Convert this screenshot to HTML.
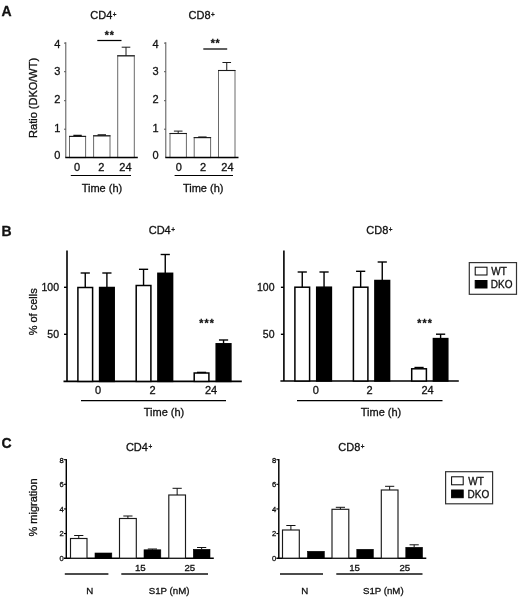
<!DOCTYPE html>
<html lang="en">
<head>
<meta charset="utf-8">
<title>Figure</title>
<style>
html,body{margin:0;padding:0;background:#fff;}
svg{display:block;}
svg text{font-family:"Liberation Sans", Arial, Helvetica, sans-serif;fill:#111;stroke:#111;stroke-width:0.3px;}
</style>
</head>
<body>
<svg width="520" height="598" viewBox="0 0 520 598">
<rect x="0" y="0" width="520" height="598" fill="#ffffff"/>
<text x="1.5" y="16.2" font-size="14" text-anchor="start" font-weight="bold" >A</text>
<text x="1.5" y="236.2" font-size="14" text-anchor="start" font-weight="bold" >B</text>
<text x="1.5" y="448" font-size="14" text-anchor="start" font-weight="bold" >C</text>
<line x1="65.8" y1="42.2" x2="65.8" y2="157.6" stroke="#555" stroke-width="1"/>
<line x1="64.0" y1="43.1" x2="65.8" y2="43.1" stroke="#555" stroke-width="1"/>
<text x="60.4" y="47.9" font-size="11" text-anchor="end" font-weight="normal" >4</text>
<line x1="64.0" y1="71.7" x2="65.8" y2="71.7" stroke="#555" stroke-width="1"/>
<text x="60.4" y="75.2" font-size="11" text-anchor="end" font-weight="normal" >3</text>
<line x1="64.0" y1="100.7" x2="65.8" y2="100.7" stroke="#555" stroke-width="1"/>
<text x="60.4" y="102.9" font-size="11" text-anchor="end" font-weight="normal" >2</text>
<line x1="64.0" y1="129.2" x2="65.8" y2="129.2" stroke="#555" stroke-width="1"/>
<text x="60.4" y="132.0" font-size="11" text-anchor="end" font-weight="normal" >1</text>
<text x="60.4" y="159.1" font-size="11" text-anchor="end" font-weight="normal" >0</text>
<rect x="69.5" y="136.4" width="16.1" height="21.2" fill="#fff" stroke="#6a6a6a" stroke-width="1"/>
<line x1="69.0" y1="136.4" x2="86.1" y2="136.4" stroke="#1c1c1c" stroke-width="1.1"/>
<line x1="73.35" y1="135.4" x2="81.75" y2="135.4" stroke="#111" stroke-width="1.3"/>
<rect x="93.6" y="135.8" width="16.4" height="21.8" fill="#fff" stroke="#6a6a6a" stroke-width="1"/>
<line x1="93.1" y1="135.8" x2="110.5" y2="135.8" stroke="#1c1c1c" stroke-width="1.1"/>
<line x1="97.6" y1="134.9" x2="106.0" y2="134.9" stroke="#111" stroke-width="1.3"/>
<rect x="117.7" y="55.8" width="16.6" height="101.8" fill="#fff" stroke="#6a6a6a" stroke-width="1"/>
<line x1="117.2" y1="55.8" x2="134.8" y2="55.8" stroke="#1c1c1c" stroke-width="1.1"/>
<line x1="126.0" y1="47.2" x2="126.0" y2="55.8" stroke="#1a1a1a" stroke-width="1"/>
<line x1="121.7" y1="47.2" x2="130.3" y2="47.2" stroke="#1a1a1a" stroke-width="1"/>
<line x1="65.3" y1="157.6" x2="137.8" y2="157.6" stroke="#000" stroke-width="1.5"/>
<text x="76.95" y="171.1" font-size="11" text-anchor="middle" font-weight="normal" >0</text>
<text x="101.2" y="171.1" font-size="11" text-anchor="middle" font-weight="normal" >2</text>
<text x="125.4" y="171.1" font-size="11" text-anchor="middle" font-weight="normal" >24</text>
<line x1="70.8" y1="175.5" x2="131" y2="175.5" stroke="#000" stroke-width="1.2"/>
<text x="101.9" y="191.8" font-size="11" text-anchor="middle" font-weight="normal" >Time (h)</text>
<line x1="97.3" y1="40.5" x2="121.5" y2="40.5" stroke="#000" stroke-width="1.25"/>
<text x="109.7" y="38.6" font-size="10.5" text-anchor="middle" font-weight="bold" letter-spacing="0.8">**</text>
<text x="90.3" y="19.2" font-size="11" text-anchor="start">CD4<tspan font-size="6.4" dy="-2.4" dx="0.5">+</tspan></text>
<line x1="165.8" y1="42.2" x2="165.8" y2="157.6" stroke="#555" stroke-width="1"/>
<line x1="164.0" y1="43.1" x2="165.8" y2="43.1" stroke="#555" stroke-width="1"/>
<text x="158.60000000000002" y="47.9" font-size="11" text-anchor="end" font-weight="normal" >4</text>
<line x1="164.0" y1="71.7" x2="165.8" y2="71.7" stroke="#555" stroke-width="1"/>
<text x="158.60000000000002" y="75.2" font-size="11" text-anchor="end" font-weight="normal" >3</text>
<line x1="164.0" y1="100.7" x2="165.8" y2="100.7" stroke="#555" stroke-width="1"/>
<text x="158.60000000000002" y="102.9" font-size="11" text-anchor="end" font-weight="normal" >2</text>
<line x1="164.0" y1="129.2" x2="165.8" y2="129.2" stroke="#555" stroke-width="1"/>
<text x="158.60000000000002" y="132.0" font-size="11" text-anchor="end" font-weight="normal" >1</text>
<text x="158.60000000000002" y="159.1" font-size="11" text-anchor="end" font-weight="normal" >0</text>
<rect x="170" y="133.5" width="16.4" height="24.1" fill="#fff" stroke="#6a6a6a" stroke-width="1"/>
<line x1="169.5" y1="133.5" x2="186.9" y2="133.5" stroke="#1c1c1c" stroke-width="1.1"/>
<line x1="178.2" y1="131.1" x2="178.2" y2="133.5" stroke="#1a1a1a" stroke-width="1"/>
<line x1="173.89999999999998" y1="131.1" x2="182.5" y2="131.1" stroke="#1a1a1a" stroke-width="1"/>
<rect x="194.2" y="137.6" width="16.4" height="20.0" fill="#fff" stroke="#6a6a6a" stroke-width="1"/>
<line x1="193.7" y1="137.6" x2="211.1" y2="137.6" stroke="#1c1c1c" stroke-width="1.1"/>
<line x1="198.2" y1="137.1" x2="206.59999999999997" y2="137.1" stroke="#111" stroke-width="1.3"/>
<rect x="218.5" y="70.5" width="16.5" height="87.1" fill="#fff" stroke="#6a6a6a" stroke-width="1"/>
<line x1="218.0" y1="70.5" x2="235.5" y2="70.5" stroke="#1c1c1c" stroke-width="1.1"/>
<line x1="226.75" y1="62.5" x2="226.75" y2="70.5" stroke="#1a1a1a" stroke-width="1"/>
<line x1="222.45" y1="62.5" x2="231.05" y2="62.5" stroke="#1a1a1a" stroke-width="1"/>
<line x1="165.3" y1="157.6" x2="238.5" y2="157.6" stroke="#000" stroke-width="1.5"/>
<text x="178.89999999999998" y="171.1" font-size="11" text-anchor="middle" font-weight="normal" >0</text>
<text x="203.09999999999997" y="171.1" font-size="11" text-anchor="middle" font-weight="normal" >2</text>
<text x="227.45" y="171.1" font-size="11" text-anchor="middle" font-weight="normal" >24</text>
<line x1="174.6" y1="175.5" x2="233" y2="175.5" stroke="#000" stroke-width="1.2"/>
<text x="203.2" y="191.8" font-size="11" text-anchor="middle" font-weight="normal" >Time (h)</text>
<line x1="203.3" y1="49" x2="227.2" y2="49" stroke="#000" stroke-width="1.25"/>
<text x="215.55" y="47.1" font-size="10.5" text-anchor="middle" font-weight="bold" letter-spacing="0.8">**</text>
<text x="188.6" y="19.2" font-size="11" text-anchor="start">CD8<tspan font-size="6.4" dy="-2.4" dx="0.5">+</tspan></text>
<text transform="translate(37.4,97.9) rotate(-90)" font-size="11" text-anchor="middle">Ratio (DKO/WT)</text>
<line x1="67" y1="250.5" x2="67" y2="381.4" stroke="#000" stroke-width="1.6"/>
<line x1="63.5" y1="381.4" x2="241.8" y2="381.4" stroke="#000" stroke-width="1.6"/>
<line x1="64" y1="287.3" x2="67" y2="287.3" stroke="#000" stroke-width="1.4"/>
<line x1="64" y1="334.3" x2="67" y2="334.3" stroke="#000" stroke-width="1.4"/>
<text x="59" y="291" font-size="10.5" text-anchor="end" font-weight="normal" >100</text>
<text x="59" y="338.1" font-size="10.5" text-anchor="end" font-weight="normal" >50</text>
<rect x="77.9" y="287.5" width="14.7" height="93.9" fill="#fff" stroke="#000" stroke-width="1.5"/>
<line x1="85.25" y1="273" x2="85.25" y2="287.5" stroke="#000" stroke-width="1.4"/>
<line x1="80.65" y1="273" x2="89.85" y2="273" stroke="#000" stroke-width="1.4"/>
<rect x="99.60000000000001" y="287.5" width="14.6" height="93.9" fill="#000" stroke="#000" stroke-width="1.5"/>
<line x1="106.9" y1="273" x2="106.9" y2="287.5" stroke="#000" stroke-width="1.4"/>
<line x1="102.30000000000001" y1="273" x2="111.5" y2="273" stroke="#000" stroke-width="1.4"/>
<rect x="136.20000000000002" y="285.5" width="14.7" height="95.9" fill="#fff" stroke="#000" stroke-width="1.5"/>
<line x1="143.55" y1="269.3" x2="143.55" y2="285.5" stroke="#000" stroke-width="1.4"/>
<line x1="138.95000000000002" y1="269.3" x2="148.15" y2="269.3" stroke="#000" stroke-width="1.4"/>
<rect x="157.9" y="273.3" width="14.7" height="108.1" fill="#000" stroke="#000" stroke-width="1.5"/>
<line x1="165.25" y1="254.5" x2="165.25" y2="273.3" stroke="#000" stroke-width="1.4"/>
<line x1="160.65" y1="254.5" x2="169.85" y2="254.5" stroke="#000" stroke-width="1.4"/>
<rect x="194.20000000000002" y="373" width="14.7" height="8.4" fill="#fff" stroke="#000" stroke-width="1.5"/>
<line x1="201.55" y1="372.4" x2="201.55" y2="373" stroke="#000" stroke-width="1.4"/>
<line x1="196.95000000000002" y1="372.4" x2="206.15" y2="372.4" stroke="#000" stroke-width="1.4"/>
<rect x="216.20000000000002" y="343.8" width="14.7" height="37.6" fill="#000" stroke="#000" stroke-width="1.5"/>
<line x1="223.55" y1="340" x2="223.55" y2="343.8" stroke="#000" stroke-width="1.4"/>
<line x1="218.95000000000002" y1="340" x2="228.15" y2="340" stroke="#000" stroke-width="1.4"/>
<text x="98" y="394.2" font-size="11" text-anchor="middle" font-weight="normal" >0</text>
<text x="152.5" y="394.2" font-size="11" text-anchor="middle" font-weight="normal" >2</text>
<text x="211" y="394.2" font-size="11" text-anchor="middle" font-weight="normal" >24</text>
<line x1="81" y1="400.6" x2="226" y2="400.6" stroke="#000" stroke-width="1.3"/>
<text x="164" y="416.2" font-size="11" text-anchor="middle" font-weight="normal" >Time (h)</text>
<text x="207.15" y="326.8" font-size="10.5" text-anchor="middle" font-weight="bold" letter-spacing="1.1">***</text>
<text x="148.7" y="234" font-size="11" text-anchor="start">CD4<tspan font-size="6.4" dy="-2.4" dx="0.5">+</tspan></text>
<line x1="283.9" y1="250.5" x2="283.9" y2="381.0" stroke="#000" stroke-width="1.6"/>
<line x1="280.4" y1="381.0" x2="458.8" y2="381.0" stroke="#000" stroke-width="1.6"/>
<line x1="280.9" y1="287.3" x2="283.9" y2="287.3" stroke="#000" stroke-width="1.4"/>
<line x1="280.9" y1="334.3" x2="283.9" y2="334.3" stroke="#000" stroke-width="1.4"/>
<text x="274.5" y="291" font-size="10.5" text-anchor="end" font-weight="normal" >100</text>
<text x="274.5" y="338.1" font-size="10.5" text-anchor="end" font-weight="normal" >50</text>
<rect x="294.9" y="287.2" width="14.7" height="93.8" fill="#fff" stroke="#000" stroke-width="1.5"/>
<line x1="302.25" y1="272" x2="302.25" y2="287.2" stroke="#000" stroke-width="1.4"/>
<line x1="297.65" y1="272" x2="306.85" y2="272" stroke="#000" stroke-width="1.4"/>
<rect x="316.7" y="287.2" width="14.7" height="93.8" fill="#000" stroke="#000" stroke-width="1.5"/>
<line x1="324.05" y1="272" x2="324.05" y2="287.2" stroke="#000" stroke-width="1.4"/>
<line x1="319.45" y1="272" x2="328.65000000000003" y2="272" stroke="#000" stroke-width="1.4"/>
<rect x="353.4" y="287.2" width="14.5" height="93.8" fill="#fff" stroke="#000" stroke-width="1.5"/>
<line x1="360.65" y1="271.3" x2="360.65" y2="287.2" stroke="#000" stroke-width="1.4"/>
<line x1="356.04999999999995" y1="271.3" x2="365.25" y2="271.3" stroke="#000" stroke-width="1.4"/>
<rect x="374.9" y="280.5" width="14.7" height="100.5" fill="#000" stroke="#000" stroke-width="1.5"/>
<line x1="382.25" y1="262" x2="382.25" y2="280.5" stroke="#000" stroke-width="1.4"/>
<line x1="377.65" y1="262" x2="386.85" y2="262" stroke="#000" stroke-width="1.4"/>
<rect x="411.7" y="368.8" width="14.7" height="12.2" fill="#fff" stroke="#000" stroke-width="1.5"/>
<line x1="419.05" y1="367.5" x2="419.05" y2="368.8" stroke="#000" stroke-width="1.4"/>
<line x1="414.45" y1="367.5" x2="423.65000000000003" y2="367.5" stroke="#000" stroke-width="1.4"/>
<rect x="433.4" y="338.6" width="14.4" height="42.4" fill="#000" stroke="#000" stroke-width="1.5"/>
<line x1="440.6" y1="334.2" x2="440.6" y2="338.6" stroke="#000" stroke-width="1.4"/>
<line x1="436.0" y1="334.2" x2="445.20000000000005" y2="334.2" stroke="#000" stroke-width="1.4"/>
<text x="315.8" y="394.2" font-size="11" text-anchor="middle" font-weight="normal" >0</text>
<text x="369.5" y="394.2" font-size="11" text-anchor="middle" font-weight="normal" >2</text>
<text x="427.5" y="394.2" font-size="11" text-anchor="middle" font-weight="normal" >24</text>
<line x1="297" y1="400.6" x2="442.5" y2="400.6" stroke="#000" stroke-width="1.3"/>
<text x="381" y="416.2" font-size="11" text-anchor="middle" font-weight="normal" >Time (h)</text>
<text x="425.05" y="326.8" font-size="10.5" text-anchor="middle" font-weight="bold" letter-spacing="1.1">***</text>
<text x="366.3" y="234" font-size="11" text-anchor="start">CD8<tspan font-size="6.4" dy="-2.4" dx="0.5">+</tspan></text>
<text transform="translate(36.7,311.8) rotate(-90)" font-size="11" text-anchor="middle">% of cells</text>
<rect x="469.3" y="262.6" width="47.2" height="31.7" fill="#fff" stroke="#333" stroke-width="1.2"/>
<rect x="475.2" y="267.2" width="11.8" height="7.8" fill="#fff" stroke="#000" stroke-width="1"/>
<rect x="475.2" y="280.5" width="11.8" height="7.5" fill="#000" stroke="#000" stroke-width="1"/>
<text x="491.3" y="274.8" font-size="10" text-anchor="start" font-weight="normal" >WT</text>
<text x="490.8" y="288" font-size="10" text-anchor="start" font-weight="normal" >DKO</text>
<line x1="66.3" y1="459.1" x2="66.3" y2="558.2" stroke="#000" stroke-width="1.45"/>
<line x1="63.9" y1="558.2" x2="213.8" y2="558.2" stroke="#000" stroke-width="1.35"/>
<line x1="63.9" y1="459.7" x2="66.3" y2="459.7" stroke="#000" stroke-width="1.1"/>
<text x="63.8" y="462.59999999999997" font-size="7.6" text-anchor="end" font-weight="normal" >8</text>
<line x1="63.9" y1="484.32" x2="66.3" y2="484.32" stroke="#000" stroke-width="1.1"/>
<text x="63.8" y="487.21999999999997" font-size="7.6" text-anchor="end" font-weight="normal" >6</text>
<line x1="63.9" y1="508.94" x2="66.3" y2="508.94" stroke="#000" stroke-width="1.1"/>
<text x="63.8" y="511.84" font-size="7.6" text-anchor="end" font-weight="normal" >4</text>
<line x1="63.9" y1="533.56" x2="66.3" y2="533.56" stroke="#000" stroke-width="1.1"/>
<text x="63.8" y="536.4599999999999" font-size="7.6" text-anchor="end" font-weight="normal" >2</text>
<text x="63.8" y="561.0799999999999" font-size="7.6" text-anchor="end" font-weight="normal" >0</text>
<rect x="70.5" y="538.5" width="16.5" height="19.7" fill="#fff" stroke="#1a1a1a" stroke-width="1.15"/>
<line x1="78.75" y1="535.5" x2="78.75" y2="538.5" stroke="#111" stroke-width="1"/>
<line x1="74.15" y1="535.5" x2="83.35" y2="535.5" stroke="#111" stroke-width="1"/>
<rect x="95" y="553" width="16.8" height="5.2" fill="#000" stroke="#000" stroke-width="0.6"/>
<rect x="119.5" y="518.5" width="16.8" height="39.7" fill="#fff" stroke="#1a1a1a" stroke-width="1.15"/>
<line x1="127.9" y1="516" x2="127.9" y2="518.5" stroke="#111" stroke-width="1"/>
<line x1="123.30000000000001" y1="516" x2="132.5" y2="516" stroke="#111" stroke-width="1"/>
<rect x="144" y="549.8" width="16.8" height="8.4" fill="#000" stroke="#000" stroke-width="0.6"/>
<line x1="152.4" y1="549" x2="152.4" y2="549.8" stroke="#111" stroke-width="1"/>
<line x1="147.8" y1="549" x2="157.0" y2="549" stroke="#111" stroke-width="1"/>
<rect x="168.8" y="495" width="16.7" height="63.2" fill="#fff" stroke="#1a1a1a" stroke-width="1.15"/>
<line x1="177.15" y1="488.3" x2="177.15" y2="495" stroke="#111" stroke-width="1"/>
<line x1="172.55" y1="488.3" x2="181.75" y2="488.3" stroke="#111" stroke-width="1"/>
<rect x="193.3" y="549.3" width="16.7" height="8.9" fill="#000" stroke="#000" stroke-width="0.6"/>
<line x1="201.65" y1="547.5" x2="201.65" y2="549.3" stroke="#111" stroke-width="1"/>
<line x1="197.05" y1="547.5" x2="206.25" y2="547.5" stroke="#111" stroke-width="1"/>
<line x1="64.8" y1="574.0" x2="108.4" y2="574.0" stroke="#111" stroke-width="1.45"/>
<line x1="121.3" y1="574.0" x2="208" y2="574.0" stroke="#111" stroke-width="1.45"/>
<text x="89.8" y="593.8" font-size="9.7" text-anchor="middle" font-weight="normal" >N</text>
<text x="140.3" y="570.5999999999999" font-size="9.7" text-anchor="middle" font-weight="normal" >15</text>
<text x="189.8" y="570.5999999999999" font-size="9.7" text-anchor="middle" font-weight="normal" >25</text>
<text x="169.10000000000002" y="593.8" font-size="9.7" text-anchor="middle" font-weight="normal" >S1P (nM)</text>
<text x="125.9" y="451" font-size="11" text-anchor="start">CD4<tspan font-size="6.4" dy="-2.4" dx="0.5">+</tspan></text>
<line x1="278.8" y1="459.1" x2="278.8" y2="558.2" stroke="#000" stroke-width="1.45"/>
<line x1="276.40000000000003" y1="558.2" x2="426.3" y2="558.2" stroke="#000" stroke-width="1.35"/>
<line x1="276.40000000000003" y1="459.7" x2="278.8" y2="459.7" stroke="#000" stroke-width="1.1"/>
<text x="276.3" y="462.59999999999997" font-size="7.6" text-anchor="end" font-weight="normal" >8</text>
<line x1="276.40000000000003" y1="484.32" x2="278.8" y2="484.32" stroke="#000" stroke-width="1.1"/>
<text x="276.3" y="487.21999999999997" font-size="7.6" text-anchor="end" font-weight="normal" >6</text>
<line x1="276.40000000000003" y1="508.94" x2="278.8" y2="508.94" stroke="#000" stroke-width="1.1"/>
<text x="276.3" y="511.84" font-size="7.6" text-anchor="end" font-weight="normal" >4</text>
<line x1="276.40000000000003" y1="533.56" x2="278.8" y2="533.56" stroke="#000" stroke-width="1.1"/>
<text x="276.3" y="536.4599999999999" font-size="7.6" text-anchor="end" font-weight="normal" >2</text>
<text x="276.3" y="561.0799999999999" font-size="7.6" text-anchor="end" font-weight="normal" >0</text>
<rect x="282.5" y="530" width="16.8" height="28.2" fill="#fff" stroke="#1a1a1a" stroke-width="1.15"/>
<line x1="290.9" y1="525.5" x2="290.9" y2="530" stroke="#111" stroke-width="1"/>
<line x1="286.29999999999995" y1="525.5" x2="295.5" y2="525.5" stroke="#111" stroke-width="1"/>
<rect x="307.5" y="551.3" width="16.8" height="6.9" fill="#000" stroke="#000" stroke-width="0.6"/>
<rect x="332" y="509.3" width="16.8" height="48.9" fill="#fff" stroke="#1a1a1a" stroke-width="1.15"/>
<line x1="340.4" y1="507.3" x2="340.4" y2="509.3" stroke="#111" stroke-width="1"/>
<line x1="335.79999999999995" y1="507.3" x2="345.0" y2="507.3" stroke="#111" stroke-width="1"/>
<rect x="356.8" y="549.3" width="16.5" height="8.9" fill="#000" stroke="#000" stroke-width="0.6"/>
<rect x="381.3" y="490" width="16.7" height="68.2" fill="#fff" stroke="#1a1a1a" stroke-width="1.15"/>
<line x1="389.65" y1="486.3" x2="389.65" y2="490" stroke="#111" stroke-width="1"/>
<line x1="385.04999999999995" y1="486.3" x2="394.25" y2="486.3" stroke="#111" stroke-width="1"/>
<rect x="405.8" y="547.3" width="16.7" height="10.9" fill="#000" stroke="#000" stroke-width="0.6"/>
<line x1="414.15" y1="544.8" x2="414.15" y2="547.3" stroke="#111" stroke-width="1"/>
<line x1="409.54999999999995" y1="544.8" x2="418.75" y2="544.8" stroke="#111" stroke-width="1"/>
<line x1="280" y1="574.0" x2="323" y2="574.0" stroke="#111" stroke-width="1.45"/>
<line x1="336.3" y1="574.0" x2="422.5" y2="574.0" stroke="#111" stroke-width="1.45"/>
<text x="304.8" y="593.8" font-size="9.7" text-anchor="middle" font-weight="normal" >N</text>
<text x="354.6" y="570.5999999999999" font-size="9.7" text-anchor="middle" font-weight="normal" >15</text>
<text x="404.8" y="570.5999999999999" font-size="9.7" text-anchor="middle" font-weight="normal" >25</text>
<text x="383.3" y="593.8" font-size="9.7" text-anchor="middle" font-weight="normal" >S1P (nM)</text>
<text x="338.3" y="451" font-size="11" text-anchor="start">CD8<tspan font-size="6.4" dy="-2.4" dx="0.5">+</tspan></text>
<text transform="translate(36.7,507.5) rotate(-90)" font-size="11" text-anchor="middle">% migration</text>
<rect x="445.6" y="471.7" width="47.0" height="32.1" fill="#fff" stroke="#333" stroke-width="1.2"/>
<rect x="451.6" y="476.8" width="11.6" height="8.0" fill="#fff" stroke="#000" stroke-width="1"/>
<rect x="451.6" y="490" width="11.6" height="7.7" fill="#000" stroke="#000" stroke-width="1"/>
<text x="468.3" y="484.6" font-size="10" text-anchor="start" font-weight="normal" >WT</text>
<text x="467.6" y="497.8" font-size="10" text-anchor="start" font-weight="normal" >DKO</text>
</svg>
</body>
</html>
